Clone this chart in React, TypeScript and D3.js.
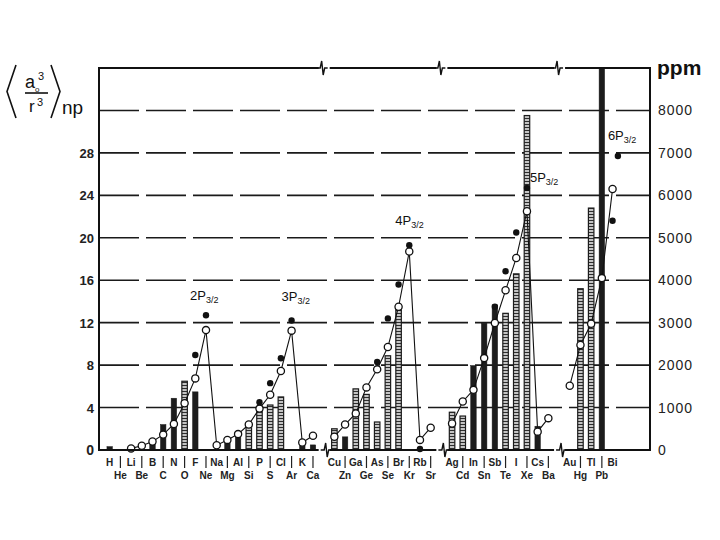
import React from "react";
import * as d3 from "d3";

// ---------- data ----------
const group1 = ["H","He","Li","Be","B","C","N","O","F","Ne","Na","Mg","Al","Si","P","S","Cl","Ar","K","Ca"];
const group2 = ["Cu","Zn","Ga","Ge","As","Se","Br","Kr","Rb","Sr"];
const group3 = ["Ag","Cd","In","Sn","Sb","Te","I","Xe","Cs","Ba"];
const group4 = ["Au","Hg","Tl","Pb","Bi"];
const groupStartSlots = [0, 21, 32, 43];
const breakSlots = [20, 31, 42];

// open circles: <a0^3/r^3>np (left axis)
const theoryG1 = [null,null,0.15,0.4,0.8,1.45,2.45,4.4,6.75,11.3,0.45,0.95,1.5,2.4,3.9,5.2,7.45,11.25,0.7,1.35];
const theoryG2 = [1.25,2.4,3.45,5.9,7.6,9.7,13.5,18.7,0.95,2.1];
const theoryG3 = [2.5,4.57,5.67,8.66,11.97,15.05,18.1,22.5,1.73,3.0];
const theoryG4 = [6.06,9.9,11.9,16.2,24.6];

// filled dots (left axis)
const measuredElements = ["F","Ne","P","S","Cl","Ar","As","Se","Br","Kr","Rb","Sb","Te","I","Xe","Bi"];
const measuredValues = [8.95,12.7,4.5,6.3,8.65,12.2,8.3,12.4,15.6,19.3,0.1,13.5,16.85,20.5,24.7,21.6];
const extraPeakSlot = 47.5;
const extraPeakValue = 27.7;

// bars: ppm (right axis)
const barElements = ["H","B","C","N","O","F","Mg","Al","Si","P","S","Cl","K","Ca",
  "Cu","Zn","Ga","Ge","As","Se","Br",
  "Ag","Cd","In","Sn","Sb","Te","I","Xe","Cs",
  "Hg","Tl","Pb"];
const barPpm = [80,150,600,1220,1620,1370,250,380,620,990,1060,1250,120,120,
  500,310,1440,1310,660,2220,3330,
  890,800,1990,2990,3420,3220,4150,7880,560,
  3800,5700,9600];
const barKind = ["s","s","s","s","h","s","s","s","h","h","h","h","s","s",
  "h","s","h","h","h","h","h",
  "h","h","s","s","s","h","h","h","s",
  "h","h","s"];

const peakLabels = ["2P","3P","4P","5P","6P"];
const peakSlots = [9, 17, 28, 39, 47.5];
const peakLabelValues = [14.1, 14.0, 21.2, 25.3, 29.2];
const peakLabelDx = [-16, -10, -14, 3, -10];

const leftTicks = [0,4,8,12,16,20,24,28];
const rightTicks = [0,1000,2000,3000,4000,5000,6000,7000,8000];
const gridValues = [4,8,12,16,20,24,28,32];

// ---------- layout ----------
const W = 720, H = 540;
const L = 99, R = 650, T = 68, B = 450;

const groups = [group1, group2, group3, group4];
const theory = [theoryG1, theoryG2, theoryG3, theoryG4];
const slotOf: Record<string, number> = {};
groups.forEach((g, gi) => g.forEach((el, i) => { slotOf[el] = groupStartSlots[gi] + i; }));

const xScale = d3.scaleLinear().domain([-1, 50.5]).range([L, R]);
const yScale = d3.scaleLinear().domain([0, 36]).range([B, T]);
const ppmScale = d3.scaleLinear().domain([0, 9000]).range([B, T]);

const FONT = "'Liberation Sans', Arial, sans-serif";

export default function App() {
  const line = d3.line<{ x: number; v: number | null }>()
    .defined(d => d.v != null)
    .x(d => d.x)
    .y(d => yScale(d.v as number));

  const bw = 5.5;

  const breakPath = (x: number, y: number) =>
    `M${x - 5},${y} L${x - 1.5},${y} L${x},${y - 7} L${x + 1.5},${y + 7} L${x + 3},${y} L${x + 6},${y}`;

  return (
    <svg width={W} height={H} style={{ position: "absolute", left: 0, top: 0, background: "#fff" }} fontFamily={FONT}>
      <defs>
        <pattern id="hatch" width="3" height="3" patternUnits="userSpaceOnUse">
          <rect width="3" height="3" fill="#c4c4c4" />
          <path d="M0,1.5 H3" stroke="#2e2e2e" strokeWidth="1" />
        </pattern>
        <clipPath id="plot">
          <rect x={L} y={T} width={R - L} height={B - T} />
        </clipPath>
      </defs>
      <rect width={W} height={H} fill="#fff" />

      {/* gridlines */}
      {gridValues.map(v => (
        <line key={v} x1={L} x2={R} y1={yScale(v)} y2={yScale(v)} stroke="#1a1a1a"
          strokeWidth={1.6} strokeDasharray="40,7" />
      ))}

      {/* bars */}
      <g clipPath="url(#plot)">
        {barElements.map((el, i) => {
          const x = xScale(slotOf[el]);
          const y = ppmScale(barPpm[i]);
          const solid = barKind[i] === "s";
          return (
            <rect key={el} x={x - bw / 2} y={y} width={bw} height={B - y}
              fill={solid ? "#1c1c1c" : "url(#hatch)"} stroke="#1c1c1c" strokeWidth={solid ? 0.5 : 1.2} />
          );
        })}
      </g>

      {/* theory lines + open circles */}
      {theory.map((vals, gi) => {
        const pts = vals.map((v, i) => ({ x: xScale(groupStartSlots[gi] + i), v }));
        return (
          <g key={gi}>
            <path d={line(pts) || ""} fill="none" stroke="#111" strokeWidth={1.1} />
            {pts.filter(p => p.v != null).map((p, i) => (
              <circle key={i} cx={p.x} cy={yScale(p.v as number)} r={3.6} fill="#fff" stroke="#111" strokeWidth={1.3} />
            ))}
          </g>
        );
      })}

      {/* filled dots */}
      {measuredElements.map((el, i) => (
        <circle key={el} cx={xScale(slotOf[el])} cy={yScale(measuredValues[i])} r={3.2} fill="#111" />
      ))}
      <circle cx={xScale(extraPeakSlot)} cy={yScale(extraPeakValue)} r={3.2} fill="#111" />

      {/* frame */}
      <rect x={L} y={T} width={R - L} height={B - T} fill="none" stroke="#111" strokeWidth={2} />
      {breakSlots.map(s => (
        <g key={s}>
          <rect x={xScale(s) - 5} y={T - 1.5} width={11} height={3} fill="#fff" />
          <path d={breakPath(xScale(s) - 2, T)} fill="none" stroke="#111" strokeWidth={1.4} />
          <rect x={xScale(s) - 5} y={B - 1.5} width={11} height={3} fill="#fff" />
          <path d={breakPath(xScale(s) + 2, B)} fill="none" stroke="#111" strokeWidth={1.4} />
        </g>
      ))}

      {/* left ticks */}
      {leftTicks.map(v => (
        <text key={v} x={94} y={yScale(v) + 5} textAnchor="end" fontSize={v === 0 ? 14 : 13}
          fontWeight="bold" fill="#222">{v}</text>
      ))}
      {/* right ticks */}
      {rightTicks.map(v => (
        <text key={v} x={658} y={ppmScale(v) + 5} fontSize={14} letterSpacing={1} fill="#222">{v}</text>
      ))}
      <text x={657} y={75} fontSize={21} fontWeight="bold" fill="#111">ppm</text>

      {/* left axis title */}
      <g stroke="#111" strokeWidth={1.6} fill="none">
        <path d="M16,65 L7,91.5 L16,118" />
        <path d="M51,65 L60,91.5 L51,118" />
        <path d="M25,93 L48,93" />
      </g>
      <text x={25} y={88} fontSize={18} fill="#111">a</text>
      <text x={35} y={92} fontSize={8} fill="#111">o</text>
      <text x={38} y={80} fontSize={11} fill="#111">3</text>
      <text x={29} y={112} fontSize={17} fill="#111">r</text>
      <text x={37} y={106} fontSize={11} fill="#111">3</text>
      <text x={62} y={114} fontSize={19} fill="#111">np</text>

      {/* peak labels */}
      {peakLabels.map((t, i) => (
        <text key={t} x={xScale(peakSlots[i]) + peakLabelDx[i]} y={yScale(peakLabelValues[i])}
          fontSize={13} fill="#111">
          {t}<tspan fontSize={9} dy={3}>3/2</tspan>
        </text>
      ))}

      {/* element labels */}
      {groups.map((g, gi) => g.map((el, i) => {
        const x = xScale(groupStartSlots[gi] + i);
        const top = i % 2 === 0;
        return (
          <g key={el}>
            <text x={x} y={top ? 466 : 479} textAnchor="middle" fontSize={10} fontWeight="bold" fill="#222">{el}</text>
            {!top && <line x1={x} x2={x} y1={456} y2={468} stroke="#222" strokeWidth={1.2} />}
          </g>
        );
      }))}
    </svg>
  );
}
